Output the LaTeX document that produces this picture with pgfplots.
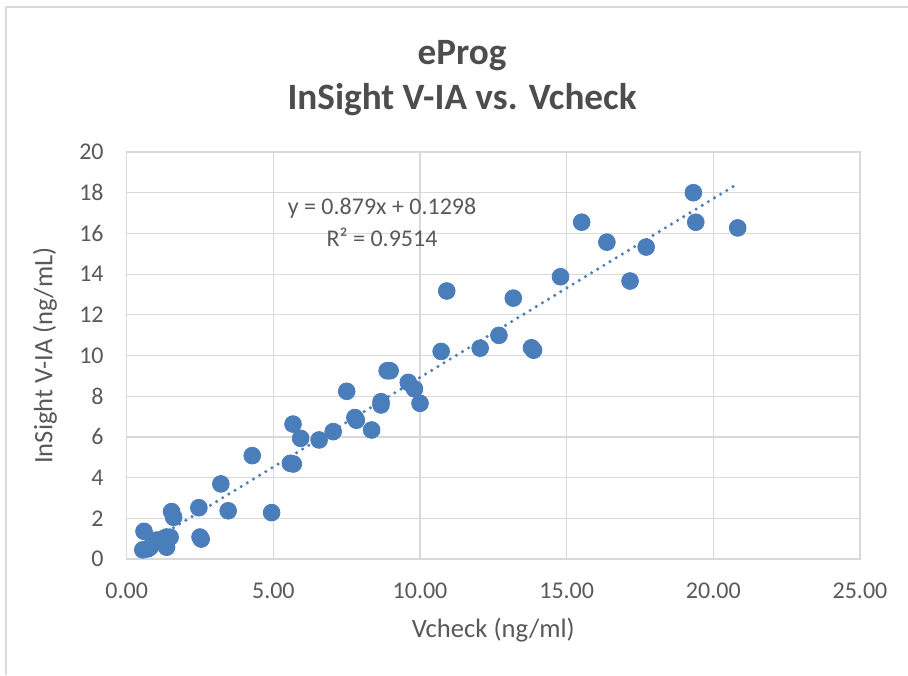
\documentclass[border=0pt]{standalone}
\usepackage{pgfplots}
\pgfplotsset{compat=1.18}
\usepackage{fontspec}
\setmainfont{Carlito}
\definecolor{txt}{HTML}{595959}
\definecolor{ttl}{HTML}{4D4D4D}
\definecolor{gridc}{HTML}{D9D9D9}
\definecolor{mk}{HTML}{4A7EBB}
\begin{document}
\begin{tikzpicture}
\useasboundingbox (0,0) rectangle (454pt,337.5pt);
\draw[gridc, line width=0.6pt] (3pt,0) -- (3pt,334pt) -- (454pt,334pt);
\begin{axis}[
  at={(63.35pt,58pt)}, anchor=south west,
  scale only axis, width=366.65pt, height=203.5pt,
  xmin=0, xmax=25, ymin=0, ymax=20,
  xtick={0,5,...,25}, ytick={0,2,...,20},
  grid=major, major grid style={gridc, line width=0.6pt},
  axis line style={gridc, line width=0.6pt},
  tick style={draw=none},
  /pgf/number format/assume math mode=true,
  ticklabel style={font=\fontsize{12}{14}\selectfont, text=txt},
  xticklabel style={/pgf/number format/.cd, fixed, fixed zerofill, precision=2, /tikz/.cd, yshift=-8.5pt},
  yticklabel style={xshift=-8pt},
  xlabel={Vcheck (ng/ml)},
  ylabel={InSight V-IA (ng/mL)},
  label style={font=\fontsize{13.3}{15}\selectfont, text=txt},
  xlabel style={at={(axis description cs:0.5,-0.1745)}, anchor=center},
  ylabel style={at={(axis description cs:-0.1114,0.5)}, anchor=center},
  clip=false,
]
\addplot[only marks, mark=*, mark size=4.2pt, mark options={draw=mk, fill=mk}] coordinates {
(0.55,0.45) (0.72,0.50) (0.80,0.58) (0.59,1.36) (1.02,0.93) (1.25,1.00)
(1.36,1.08) (1.48,1.07) (1.36,0.58) (1.53,2.33) (1.60,2.05) (2.46,2.52)
(2.50,1.08) (2.54,0.98) (3.21,3.69) (3.46,2.37) (4.28,5.08) (4.94,2.28)
(5.58,4.70) (5.68,4.67) (5.67,6.63) (5.93,5.93) (6.56,5.85) (7.04,6.26)
(7.50,8.24) (7.78,6.95) (7.83,6.82) (8.35,6.34) (8.67,7.73) (8.67,7.57)
(8.88,9.25) (8.98,9.25) (9.60,8.68) (9.81,8.36) (10.00,7.65) (10.72,10.20)
(10.91,13.17) (12.05,10.36) (12.69,10.99) (13.18,12.82) (13.80,10.38) (13.87,10.26)
(14.79,13.87) (15.51,16.55) (16.37,15.57) (17.16,13.66) (17.71,15.33) (19.32,18.00)
(19.40,16.55) (20.83,16.27)
};
\addplot[mk, line width=1.7pt, line cap=round, dash pattern=on 0pt off 3.6pt] coordinates {
(0.55,0.613) (20.83,18.44)
};
\node[font=\fontsize{12}{14}\selectfont, text=txt] at (axis description cs:0.3482,0.8624) {y = 0.879x + 0.1298};
\node[font=\fontsize{12}{14}\selectfont, text=txt] at (axis description cs:0.3482,0.7912) {R² = 0.9514};
\node[font=\bfseries\fontsize{18.6}{22}\selectfont, text=ttl] at (axis description cs:0.4573,1.236) {eProg};
\node[font=\bfseries\fontsize{18.6}{22}\selectfont, text=ttl] at (axis description cs:0.4573,1.128) {InSight V-IA vs. Vcheck};
\end{axis}
\end{tikzpicture}
\end{document}
